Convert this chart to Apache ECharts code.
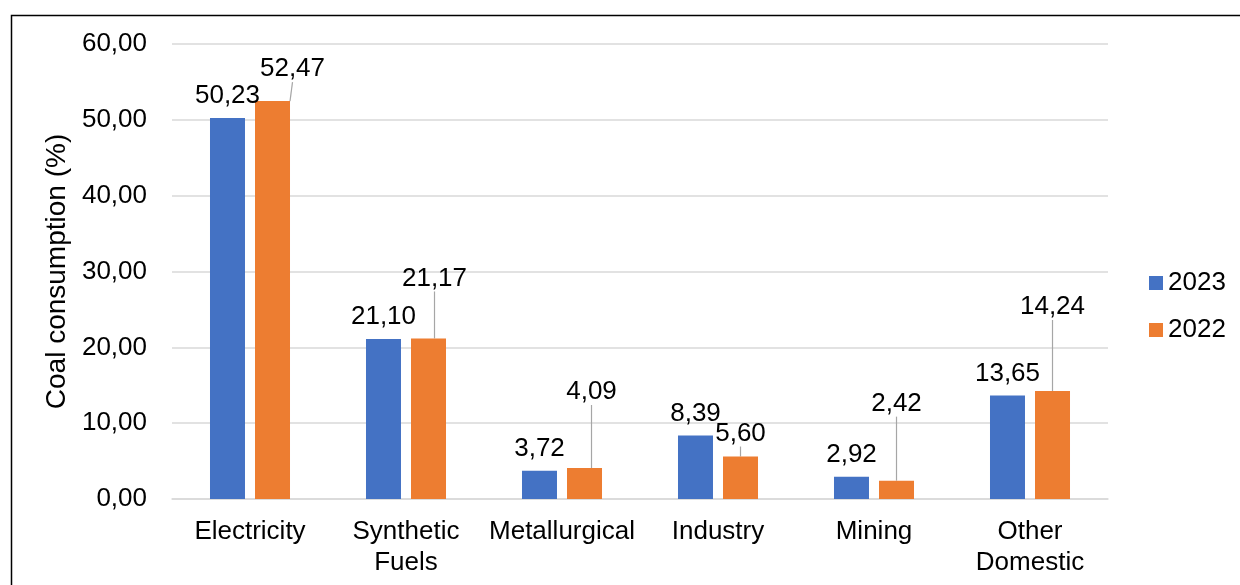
<!DOCTYPE html>
<html>
<head>
<meta charset="utf-8">
<script src="https://cdn.jsdelivr.net/npm/echarts@6/dist/echarts.min.js"></script>
<style>
  html, body { margin: 0; padding: 0; background: #fff; }
  #chart { width: 1240px; height: 585px; }
</style>
</head>
<body>
<div id="chart"></div>
<script>
// data
const categories = ['Electricity', 'Synthetic\nFuels', 'Metallurgical', 'Industry', 'Mining', 'Other\nDomestic']
const values2023 = [50.23, 21.10, 3.72, 8.39, 2.92, 13.65]
const values2022 = [52.47, 21.17, 4.09, 5.60, 2.42, 14.24]
const yTicks = [0, 10, 20, 30, 40, 50, 60]

// where the 2022 labels got dragged to (px, from default top position)
const shift2022 = [[20, -10], [6, -38], [7, -54], [0, -1], [0, -55], [0, -62]]

const font = 'Liberation Sans, Arial, sans-serif'
const fmt = v => v.toFixed(2).replace('.', ',')

const chart = echarts.init(document.getElementById('chart'))

chart.setOption({
  animation: false,
  textStyle: { fontFamily: font },
  graphic: [{
    type: 'rect',
    shape: { x: 11.5, y: 15.5, width: 1260, height: 600 },
    style: { fill: 'none', stroke: '#000', lineWidth: 1.5 },
    silent: true
  }],
  grid: { left: 172, right: 132, top: 44, bottom: 86 },
  legend: {
    orient: 'vertical',
    left: 1144,
    top: 265,
    itemWidth: 14,
    itemHeight: 14,
    itemGap: 21,
    icon: 'rect',
    textStyle: { fontSize: 26, color: '#000', fontFamily: font },
    data: ['2023', '2022']
  },
  xAxis: {
    type: 'category',
    data: categories,
    axisLine: { lineStyle: { color: '#d9d9d9', width: 1.5 } },
    axisTick: { show: false },
    axisLabel: { color: '#000', fontSize: 26, margin: 17, lineHeight: 31, interval: 0, fontFamily: font }
  },
  yAxis: {
    type: 'value',
    min: yTicks[0],
    max: yTicks[yTicks.length - 1],
    interval: 10,
    name: 'Coal consumption (%)',
    nameLocation: 'middle',
    nameGap: 97,
    nameTextStyle: { fontSize: 28, color: '#000', fontFamily: font },
    axisLine: { show: false },
    axisTick: { show: false },
    axisLabel: { color: '#000', fontSize: 26, margin: 25, formatter: v => fmt(v), fontFamily: font },
    splitLine: { lineStyle: { color: '#d9d9d9', width: 1.5 } }
  },
  series: [
    {
      name: '2023',
      type: 'bar',
      data: values2023,
      barWidth: 35,
      barGap: '28.6%',
      itemStyle: { color: '#4472C4' },
      label: {
        show: true,
        position: 'top',
        distance: 9,
        color: '#000',
        fontSize: 26,
        fontFamily: font,
        formatter: p => fmt(p.value)
      }
    },
    {
      name: '2022',
      type: 'bar',
      data: values2022,
      barWidth: 35,
      itemStyle: { color: '#ED7D31' },
      label: {
        show: true,
        position: 'top',
        distance: 9,
        color: '#000',
        fontSize: 26,
        fontFamily: font,
        formatter: p => fmt(p.value)
      },
      labelLayout: function (params) {
        const s = shift2022[params.dataIndex]
        return { dx: s[0], dy: s[1] }
      },
      labelLine: {
        show: true,
        lineStyle: { color: '#a6a6a6', width: 1.2 }
      }
    }
  ]
})
</script>
</body>
</html>
